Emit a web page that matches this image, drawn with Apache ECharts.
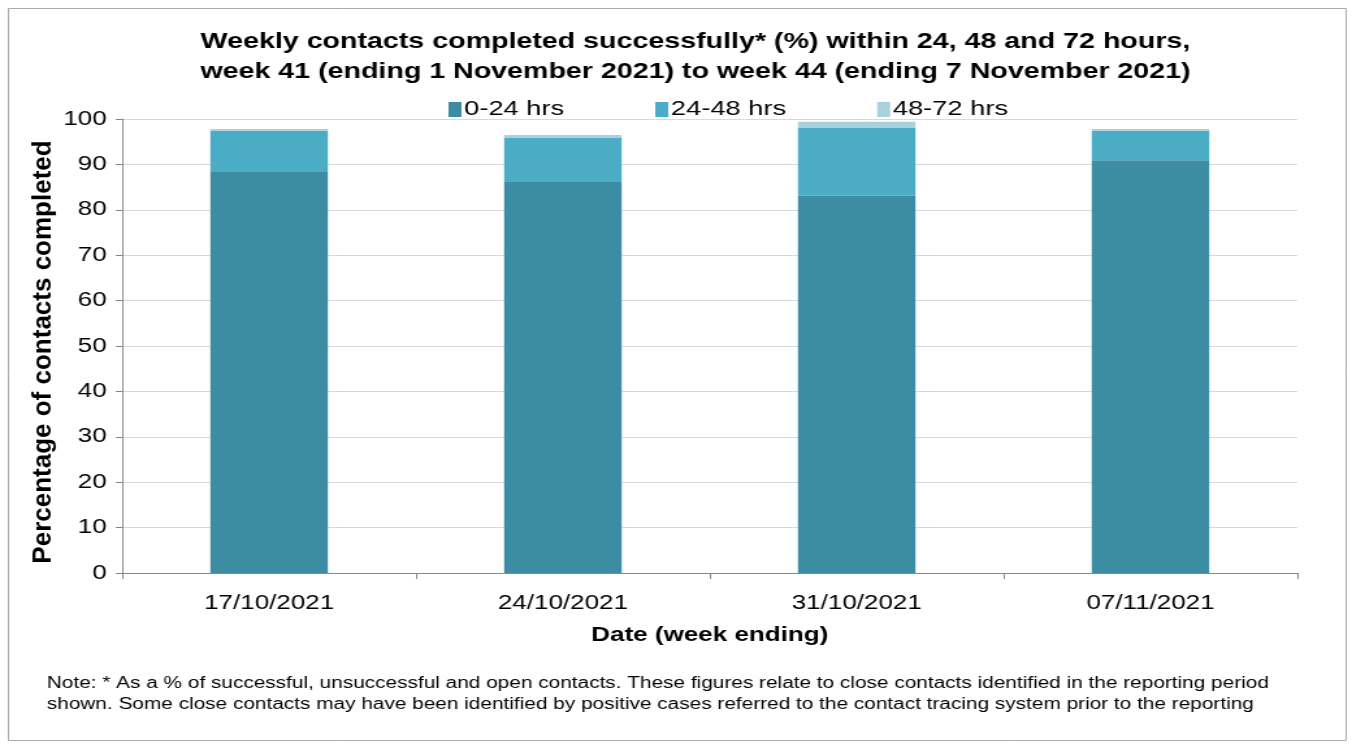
<!DOCTYPE html>
<html><head><meta charset="utf-8">
<script src="https://cdn.jsdelivr.net/npm/echarts@6/dist/echarts.min.js"></script>
<style>html,body{margin:0;padding:0;background:#fff;overflow:hidden}#c{width:1042px;height:749px;transform:scaleX(1.3);transform-origin:0 0}</style>
</head><body><div id="c"></div>
<script>
const categories = ['17/10/2021','24/10/2021','31/10/2021','07/11/2021'];
const h0_24 = [88.3, 86.1, 83.1, 90.9];
const h24_48 = [9.1, 9.7, 14.9, 6.5];
const h48_72 = [0.4, 0.7, 1.4, 0.4];
const yTicks = [0,10,20,30,40,50,60,70,80,90,100];
const chart = echarts.init(document.getElementById('c'));
const font = 'Liberation Sans, Arial, sans-serif';
const mk = (name, data, color) => ({name, type:'bar', stack:'a', data, barWidth:'40%',
  itemStyle:{color}, emphasis:{disabled:true}});
chart.setOption({
  animation:false,
  graphic:[
    {type:'rect', shape:{x:6.5,y:8.5,width:1029,height:732}, style:{fill:'none', stroke:'#aaaaaa', lineWidth:1}},
    {type:'text', x:33.5, y:352, rotation:Math.PI/2, scaleY:1/1.3, style:{text:'Percentage of contacts completed', font:'bold 26px '+font, fill:'#000', align:'center', verticalAlign:'middle'}},
    {type:'text', left:36, top:673, style:{text:'Note: * As a % of successful, unsuccessful and open contacts. These figures relate to close contacts identified in the reporting period\nshown. Some close contacts may have been identified by positive cases referred to the contact tracing system prior to the reporting', font:'16px '+font, fill:'#000', lineHeight:21}}
  ],
  title:{text:'Weekly contacts completed successfully* (%) within 24, 48 and 72 hours,\nweek 41 (ending 1 November 2021) to week 44 (ending 7 November 2021)',
    left:530, textAlign:'center', top:22, textStyle:{fontFamily:font, fontSize:22, fontWeight:'bold', color:'#000', lineHeight:30}},
  legend:{top:94, left:340, itemGap:70, itemWidth:10, itemHeight:15, icon:'rect',
    textStyle:{fontFamily:font, fontSize:21, color:'#000', padding:[0,0,0,-3]}},
  grid:{left:94, right:44, top:119, bottom:176},
  xAxis:{type:'category', data:categories, name:'Date (week ending)', nameLocation:'middle', nameGap:52,
    nameTextStyle:{fontFamily:font, fontSize:20, fontWeight:'bold', color:'#000'},
    axisLine:{lineStyle:{color:'#888'}}, axisTick:{show:true, length:6, lineStyle:{color:'#888'}},
    axisLabel:{fontFamily:font, fontSize:20, color:'#000', margin:20}},
  yAxis:{type:'value', min:0, max:100, interval:10,
    axisLine:{show:true, lineStyle:{color:'#888'}}, axisTick:{show:true, length:5, lineStyle:{color:'#888'}},
    axisLabel:{fontFamily:font, fontSize:20, color:'#000', margin:12, formatter:v=>yTicks.includes(v)?String(v):''},
    splitLine:{lineStyle:{color:'#d9d9d9'}}},
  series:[mk('0-24 hrs',h0_24,'#3C8CA3'), mk('24-48 hrs',h24_48,'#4BACC6'), mk('48-72 hrs',h48_72,'#A9D0DD')]
});
</script></body></html>
